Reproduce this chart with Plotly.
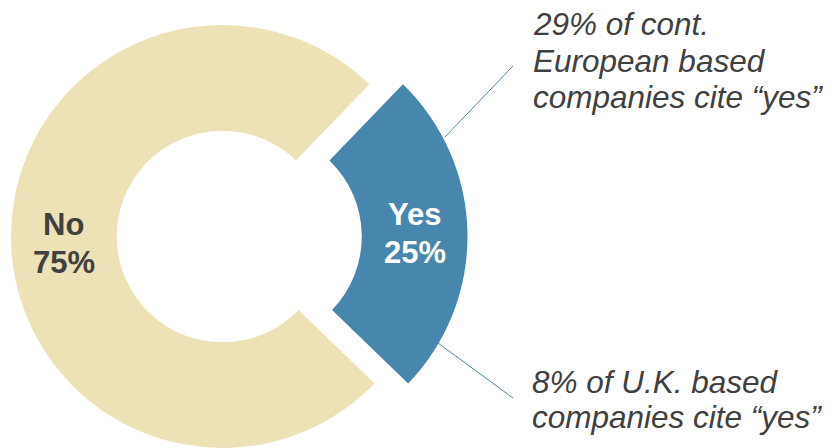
import math
import plotly.graph_objects as go

# Survey answers (share of companies, %)
labels = ["Yes", "No"]
values = [25, 75]
colors = ["#4887AD", "#EDE1B6"]
label_colors = ["#FFFFFF", "#404040"]

# Call-out notes for the "Yes" slice
note_top = ["29% of cont.", "European based", "companies cite \u201cyes\u201d"]
note_bottom = ["8% of U.K. based", "companies cite \u201cyes\u201d"]

W, H = 832, 448
HOLE = 0.5
ROTATION = 44
CX, CY, R = 222.5, 236.5, 211.5   # donut centre / radius in px
PULL_PX = 33.5                     # horizontal offset of the "Yes" wedge
TEXT = "#404040"
LINE = "#4A86AE"
FONT = "Liberation Sans, Arial, sans-serif"


def dom(cx):
    return dict(x=[(cx - R) / W, (cx + R) / W], y=[1 - (CY + R) / H, 1 - (CY - R) / H])


fig = go.Figure()
for i, cx in enumerate([CX, CX + PULL_PX][::-1]):
    idx = 1 - i  # draw "No" ring first, then the "Yes" wedge
    cols = ["rgba(0,0,0,0)"] * len(values)
    cols[idx] = colors[idx]
    fig.add_trace(go.Pie(
        labels=labels, values=values, sort=False, direction="clockwise",
        rotation=ROTATION, hole=HOLE, textinfo="none", hoverinfo="skip",
        marker=dict(colors=cols, line=dict(width=0)),
        domain=dom(CX + PULL_PX if idx == 0 else CX), showlegend=False,
    ))

# Slice labels placed at the middle of each ring segment
anns = []
total = sum(values)
start = ROTATION
r_mid = R * (1 + HOLE) / 2
for i, (lab, v) in enumerate(zip(labels, values)):
    span = v / total * 360
    mid = math.radians(start + span / 2)
    start += span
    cx = CX + (PULL_PX if i == 0 else 0)
    x = cx + r_mid * math.sin(mid)
    y = CY - r_mid * math.cos(mid) + (0 if i == 0 else 4)
    for text, dy in [(lab, -19), (f"{v}%", 19)]:
        anns.append(dict(
            x=x / W, y=1 - (y + dy) / H, xref="paper", yref="paper",
            text=f"<b>{text}</b>", showarrow=False, xanchor="center", yanchor="middle",
            font=dict(family=FONT, size=31, color=label_colors[i]),
        ))

# Call-out text, one line per annotation
def add_lines(lines, baselines, x0):
    for t, b in zip(lines, baselines):
        anns.append(dict(
            x=x0 / W, y=1 - (b - 11) / H, xref="paper", yref="paper",
            text=f"<i>{t}</i>", showarrow=False, xanchor="left", yanchor="middle",
            font=dict(family=FONT, size=31.5, color=TEXT),
        ))

add_lines(note_top, [35, 72, 108], 531)
add_lines(note_bottom, [393, 428], 530)

shapes = [
    dict(type="line", xref="paper", yref="paper",
         x0=445 / W, y0=1 - 137 / H, x1=513 / W, y1=1 - 66 / H,
         line=dict(color=LINE, width=1)),
    dict(type="line", xref="paper", yref="paper",
         x0=438 / W, y0=1 - 343 / H, x1=513 / W, y1=1 - 398 / H,
         line=dict(color=LINE, width=1)),
]

fig.update_layout(
    width=W, height=H, margin=dict(l=0, r=0, t=0, b=0),
    paper_bgcolor="white", plot_bgcolor="white",
    annotations=anns, shapes=shapes, showlegend=False,
)

fig.write_html("out.html")
